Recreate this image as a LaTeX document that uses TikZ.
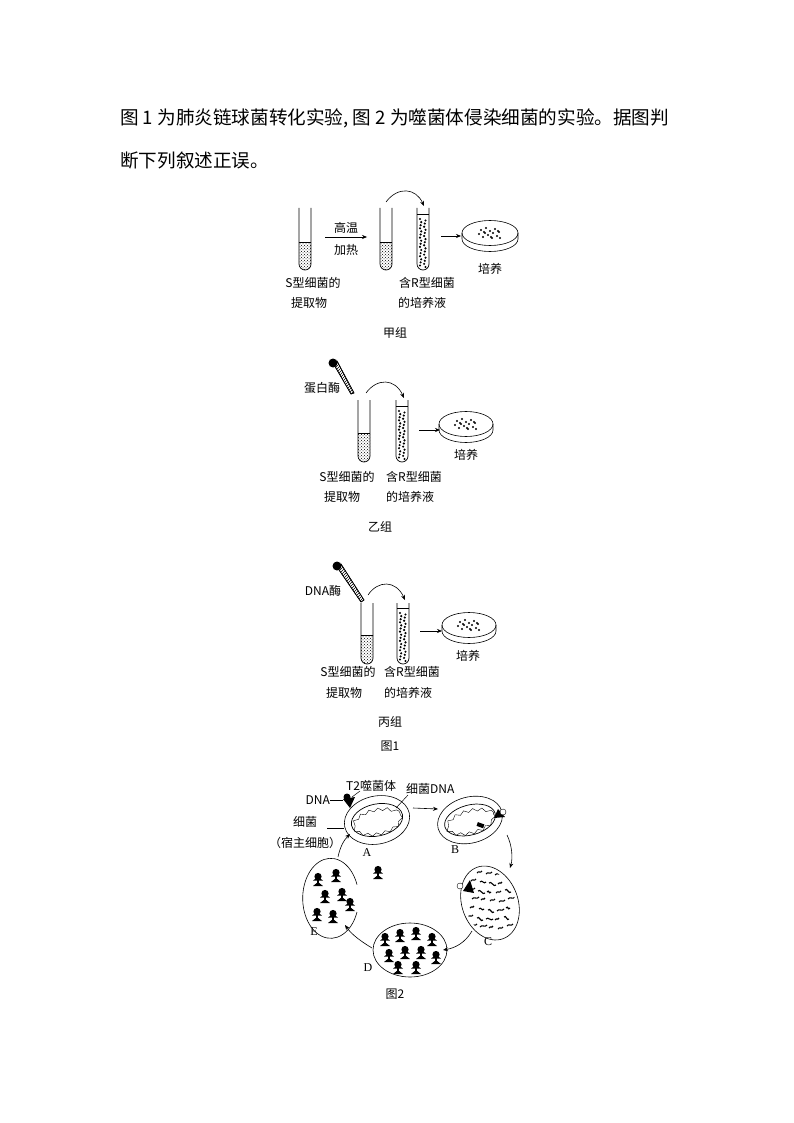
\documentclass[tikz,border=0pt]{standalone}
\usepackage{fontspec}
\setmainfont{Liberation Serif}
\newfontfamily\cjk{Noto Sans CJK SC}
\usetikzlibrary{arrows.meta,patterns,decorations.pathmorphing}
\tikzset{
 lbl/.style={font=\cjk\fontsize{12}{14}\selectfont,inner sep=0pt},
 arr/.style={-{Stealth[length=5pt,width=4pt]},line width=0.6pt},
 tubeline/.style={line width=0.7pt},
 phage/.pic={\fill (0,-3.5) circle (3.6); \fill (-5,0.5)--(5,0.5)--(0,-3)--cycle; \fill (-1.2,0) rectangle (1.2,5); \fill (-5,6) -- (5,6) -- (0,2)--cycle;},
}
\newcommand{\tube}[3]{%
 \draw[tubeline] (#1-6,#2) -- (#1-6,#3-6) arc (180:0:6) -- (#1+6,#2);}
\newcommand{\liquid}[3]{%
 \fill[pattern=crosshatch dots] (#1-6,#2) -- (#1-6,#3-6) arc (180:0:6) -- (#1+6,#2) -- cycle;
 \draw (#1-6,#2)--(#1+6,#2);}
\newcommand{\rdots}[3]{%
 \draw (#1-6,#2)--(#1+6,#2);
 \foreach \i in {0,...,15}{\fill ({#1-3+mod(\i*5,3)*0.6},{#2+5+\i*3.1}) circle (1.2);
   \fill ({#1+2.5-mod(\i*7,3)*0.7},{#2+6.5+\i*3.1}) circle (1.2);}}
\newcommand{\dish}[3]{%
 \draw[line width=0.6pt] (#1,#2) ellipse (#3 and 12.5);
 \draw[line width=0.6pt] (#1-#3,#2) -- (#1-#3,#2+6) arc (180:0:#3 and 12.5) -- (#1+#3,#2);
 \foreach \i in {1,...,16}{\fill ({#1-12+mod(\i*7,23)},{#2-5+mod(\i*5,11)}) circle (1.1);}}
\begin{document}
\begin{tikzpicture}[x=1pt,y=-1pt]
\useasboundingbox (0,0) rectangle (794,1123);
\node[anchor=west,font=\cjk\fontsize{18.6}{20}\selectfont,inner sep=0pt] (h1) at (120,118) {图 1 为肺炎链球菌转化实验, 图 2 为噬菌体侵染细菌的实验。据图判};
\node[anchor=west,font=\cjk\fontsize{18.6}{20}\selectfont,inner sep=0pt] (h2) at (120,160) {断下列叙述正误。};

% ===== 甲组 =====
\liquid{305}{242}{270}\tube{305}{208}{270}
\liquid{386}{242}{270}\tube{386}{208}{270}
\tube{423}{208}{270}\rdots{423}{214}{270}
\coordinate (a1) at (325,237); \coordinate (a2) at (367,237);
\draw[arr] (a1) -- (a2);
\node[lbl] (gw) at (346,228) {高温};
\node[lbl] (jr) at (346,250) {加热};
\coordinate (c1) at (386,202); \coordinate (c2) at (424,206);
\draw[arr] (c1) .. controls (398,186) and (416,188) .. (c2);
\coordinate (b1) at (441,236); \coordinate (b2) at (461,236);
\draw[arr] (b1) -- (b2);
\dish{490}{233}{28}
\node[lbl] (py1) at (490,269) {培养};
\node[lbl] (s1) at (313,283) {S型细菌的};
\node[lbl] (s1b) at (309,303) {提取物};
\node[lbl] (r1) at (427,283) {含R型细菌};
\node[lbl] (r1b) at (422,303) {的培养液};
\node[lbl] (g1) at (395,333) {甲组};

% ===== 乙组 =====
\draw[line width=0.6pt,pattern=north east lines] (333,363) -- (351,394) -- (354,393) -- (337,361) -- cycle;
\draw[line width=0.6pt] (333,363) -- (351,394) -- (354,393) -- (337,361) -- cycle;
\fill (333,363) circle (4.5);
\liquid{364}{433}{462}\tube{364}{400}{462}
\tube{402}{400}{462}\rdots{402}{406}{462}
\node[lbl] (dbm) at (322,388) {蛋白酶};
\coordinate (c3) at (366,393); \coordinate (c4) at (404,398);
\draw[arr] (c3) .. controls (377,378) and (395,378) .. (c4);
\coordinate (b3) at (419,430); \coordinate (b4) at (440,430);
\draw[arr] (b3) -- (b4);
\dish{466}{424}{27}
\node[lbl] (py2) at (466,455) {培养};
\node[lbl] (s2) at (347,477) {S型细菌的};
\node[lbl] (s2b) at (342,497) {提取物};
\node[lbl] (r2) at (414,477) {含R型细菌};
\node[lbl] (r2b) at (410,497) {的培养液};
\node[lbl] (g2) at (380,527) {乙组};

% ===== 丙组 =====
\draw[line width=0.6pt,pattern=north east lines] (337,567) -- (361,602) -- (364,600) -- (341,564) -- cycle;
\draw[line width=0.6pt] (337,567) -- (361,602) -- (364,600) -- (341,564) -- cycle;
\fill (337,566) circle (4.5);
\liquid{367}{635}{664}\tube{367}{603}{664}
\tube{403}{603}{664}\rdots{403}{608}{664}
\node[lbl] (dnam) at (323,591) {DNA酶};
\coordinate (c5) at (368,595); \coordinate (c6) at (405,600);
\draw[arr] (c5) .. controls (378,580) and (396,580) .. (c6);
\coordinate (b5) at (420,631); \coordinate (b6) at (442,631);
\draw[arr] (b5) -- (b6);
\dish{469}{625}{27}
\node[lbl] (py3) at (468,656) {培养};
\node[lbl] (s3) at (348,672) {S型细菌的};
\node[lbl] (s3b) at (344,693) {提取物};
\node[lbl] (r3) at (412,672) {含R型细菌};
\node[lbl] (r3b) at (408,693) {的培养液};
\node[lbl] (g3) at (390,722) {丙组};
\node[lbl] (f1) at (390,746) {图1};

% ===== 图2 =====
% A
\draw[line width=0.6pt,rotate around={12:(377,820)}] (377,820) ellipse (33 and 24);
\draw[line width=0.7pt,rotate around={12:(377,820)}] (377,820) ellipse (26 and 16);
\draw[line width=0.4pt,decorate,decoration={snake,amplitude=1.5pt,segment length=9pt},rotate around={12:(377,820)}] (377,820) ellipse (24 and 12);
\fill (343,799) -- (355,797) -- (350,808) -- cycle; \fill (347,797) circle (3.5);
% B
\draw[line width=0.6pt,rotate around={15:(470,820)}] (470,820) ellipse (33 and 23);
\draw[line width=0.7pt,rotate around={15:(470,820)}] (470,820) ellipse (26 and 15);
\draw[line width=0.4pt,decorate,decoration={snake,amplitude=1.5pt,segment length=9pt},rotate around={15:(470,820)}] (470,820) ellipse (24 and 11);
\fill[rotate around={-20:(480,825)}] (477,823) rectangle (484,827);
\fill (494,818) -- (498,809) -- (505,817) -- cycle; \draw[fill=white] (503,812) circle (3);
% C
\draw[line width=0.6pt,rotate around={20:(490,903)}] (490,903) ellipse (28 and 38);
\begin{scope}
\clip[rotate around={20:(490,903)}] (490,903) ellipse (25 and 35);
\foreach \i in {0,...,6}{\foreach \j in {0,...,4}{
 \draw[line width=1.1pt] ({468+\j*9+mod(\i*3,5)},{872+\i*9+mod(\j*5,4)}) .. controls ++(2,-3) and ++(-2,3) .. ++({4+mod(\i+\j,4)},{mod(\i*\j,3)*2-2});}}
\end{scope}
\fill (463,891) -- (470,880) -- (474,893) -- cycle; \draw[fill=white] (460,886) circle (3);
% D
\draw[line width=0.6pt] (410,950) ellipse (37 and 27);
\foreach \p in {(385,940),(400,936),(416,934),(432,940),(389,956),(405,953),(421,953),(436,958),(398,968),(416,968)}{\pic at \p {phage};}
% E
\draw[line width=0.6pt] (357,912) arc (20:340:28 and 40);
\foreach \p in {(318,880),(336,876),(325,897),(342,895),(317,915),(333,917),(350,905)}{\pic at \p {phage};}
\pic at (378,873) {phage};
\node[lbl,font=\fontsize{12}{14}\selectfont] (la) at (367,853) {A};
\node[lbl,font=\fontsize{12}{14}\selectfont] (lb) at (455,850) {B};
\node[lbl,font=\fontsize{12}{14}\selectfont] (lc) at (488,942) {C};
\node[lbl,font=\fontsize{12}{14}\selectfont] (ld) at (368,968) {D};
\node[lbl,font=\fontsize{12}{14}\selectfont] (le) at (314,932) {E};
\node[lbl] (f2) at (395,994) {图2};
\node[lbl,anchor=west] (t2) at (346,786) {\fontsize{12}{14}\selectfont T2{\cjk 噬菌体}};
\node[lbl,anchor=west] (xj) at (406,789) {{\cjk 细菌}DNA};
\node[lbl,anchor=east] (dna) at (330,800) {DNA};
\node[lbl] (xj2) at (305,822) {细菌};
\node[lbl] (sz) at (305,843) {（宿主细胞）};
\draw[line width=0.5pt] (dna.east) -- (343,800);
\draw[line width=0.5pt] (352,797) -- (360,791);
\draw[line width=0.5pt] (408,795) -- (396,808);
\draw[line width=0.5pt] (327,828) -- (344,828);
% cycle arrows
\coordinate (ab1) at (413,808); \coordinate (ab2) at (438,809);
\draw[arr] (ab1) -- (ab2);
\coordinate (bc1) at (507,835); \coordinate (bc2) at (510,868);
\draw[arr] (bc1) .. controls (512,845) and (513,858) .. (bc2);
\coordinate (cd1) at (472,931); \coordinate (cd2) at (443,950);
\draw[arr] (cd1) .. controls (465,943) and (455,948) .. (cd2);
\coordinate (de1) at (372,948); \coordinate (de2) at (345,925);
\draw[arr] (de1) .. controls (362,942) and (352,935) .. (de2);
\coordinate (ea1) at (338,857); \coordinate (ea2) at (350,834);
\draw[arr] (ea1) .. controls (340,847) and (344,840) .. (ea2);
\end{tikzpicture}
\end{document}
